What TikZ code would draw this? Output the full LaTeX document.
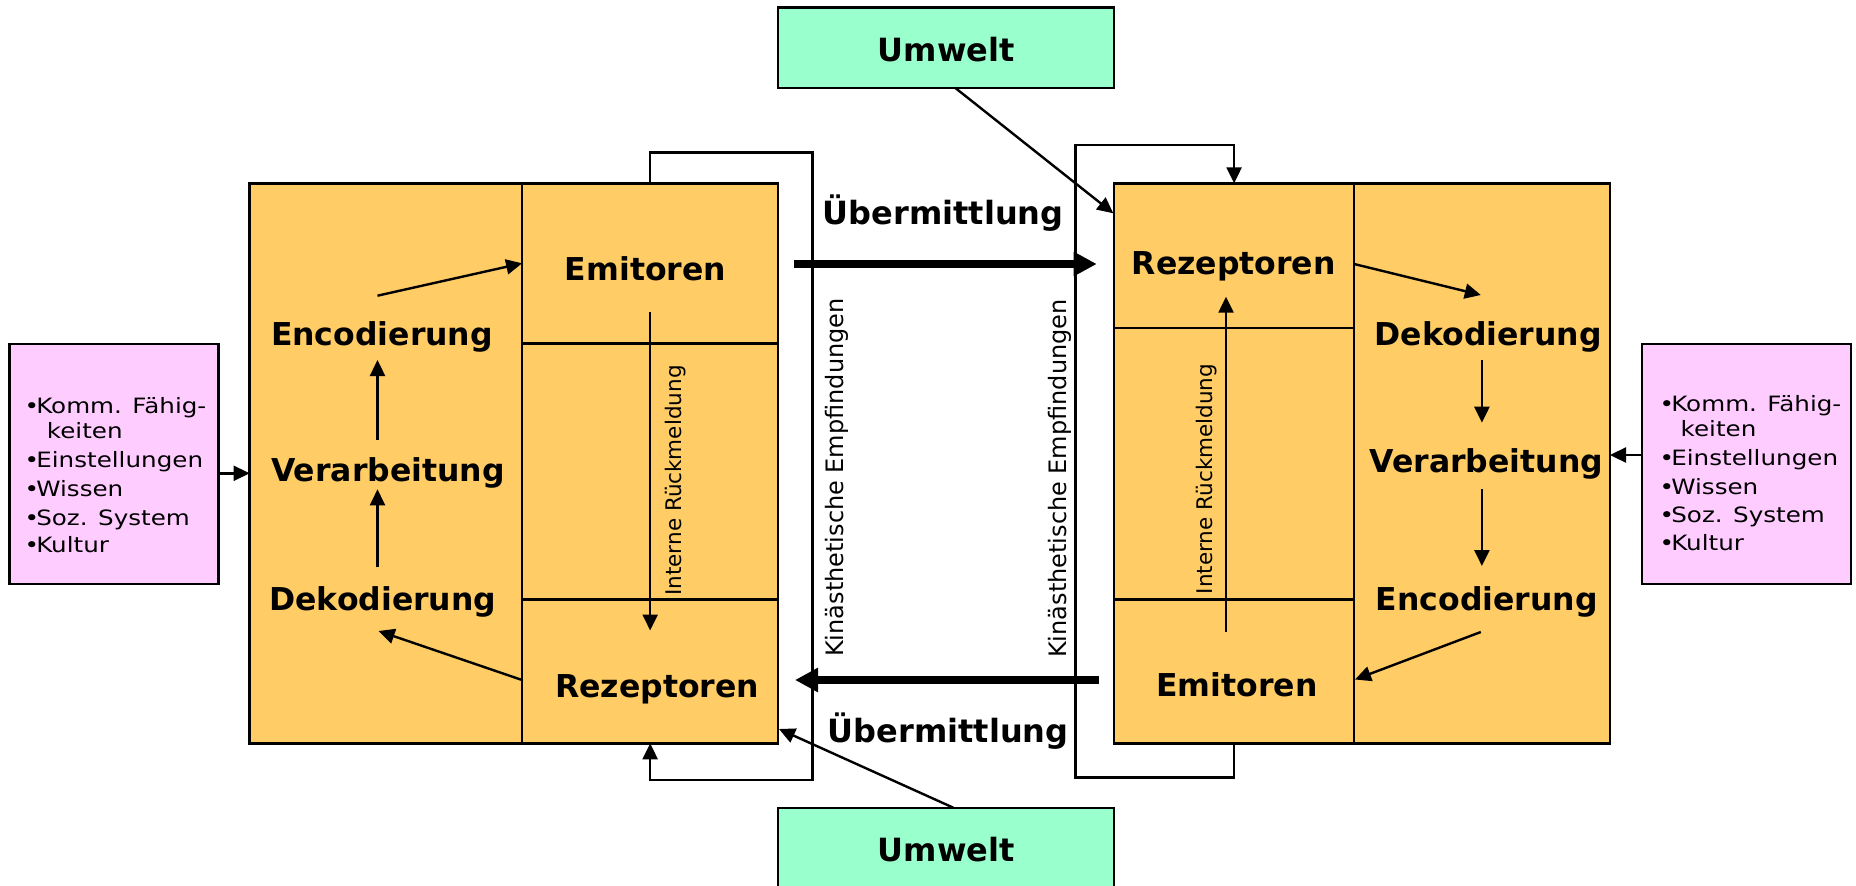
\documentclass[tikz,border=0pt]{standalone}
\usepackage{fontspec}
\usepackage{graphicx}
\setmainfont{DejaVu Sans}
\usetikzlibrary{arrows.meta}
\definecolor{boxorange}{RGB}{255,204,102}
\definecolor{envgreen}{RGB}{153,255,204}
\definecolor{inpink}{RGB}{255,204,255}
\newcommand\bul{\makebox[6.5pt][l]{\hspace{-3.2pt}•}}
\newcommand\pk[1]{\scalebox{1.2}[1.03]{#1}}
\begin{document}
\begin{tikzpicture}[x=1pt,y=-1pt,
  box/.style={draw=black,line width=2.4pt,inner sep=0pt,outer sep=0pt},
  cellbox/.style={box,fill=boxorange},
  greenbox/.style={box,fill=envgreen},
  pinkbox/.style={box,fill=inpink},
  conn/.style={line width=2.4pt,-{Triangle[length=16pt,width=15pt]}},
  bigarrow/.style={line width=8pt,-{Triangle[length=23pt,width=23pt]}},
  lbl/.style={font=\bfseries\fontsize{31.5}{37}\selectfont,anchor=base,inner sep=0pt},
  blbl/.style={font=\bfseries\fontsize{32}{38}\selectfont,anchor=base,inner sep=0pt},
  vlbl/.style={font=\fontsize{24}{28}\selectfont,anchor=base,rotate=90,inner sep=0pt},
  ilbl/.style={font=\fontsize{21.5}{25}\selectfont,anchor=base,rotate=90,inner sep=0pt},
  pinktxt/.style={font=\fontsize{20.5}{24}\selectfont,anchor=base west,inner sep=0pt}
]
\useasboundingbox (0,0) rectangle (1856,886);

% left block
\node[cellbox,minimum width=272.5pt,minimum height=560pt] (colL) at (385.85,463.3) {};
\node[cellbox,minimum width=256.1pt,minimum height=160pt] (emL) at (650.15,263.3) {};
\node[cellbox,minimum width=256.1pt,minimum height=256pt] (midL) at (650.15,471.3) {};
\node[cellbox,minimum width=256.1pt,minimum height=144pt] (rzL) at (650.15,671.3) {};

% right block
\node[cellbox,minimum width=240pt,minimum height=144.4pt] (rzR) at (1234.1,255.5) {};
\node[cellbox,minimum width=240pt,minimum height=271.9pt] (midR) at (1234.1,463.65) {};
\node[cellbox,minimum width=240pt,minimum height=143.7pt] (emR) at (1234.1,671.45) {};
\node[cellbox,minimum width=255.9pt,minimum height=560pt] (colR) at (1482.05,463.3) {};

% pink boxes
\node[pinkbox,minimum width=209pt,minimum height=240pt] (pkL) at (113.8,464) {};
\node[pinkbox,minimum width=209.3pt,minimum height=240pt] (pkR) at (1746.35,464) {};

% green boxes
\node[greenbox,minimum width=336.3pt,minimum height=80.4pt] (uwT) at (945.85,47.5) {};
\node[greenbox,minimum width=336.3pt,minimum height=100pt] (uwB) at (945.85,857.7) {};

% labels
\node[lbl] (tEncL) at (382,345) {Encodierung};
\node[lbl] (tVerL) at (388,481.5) {Verarbeitung};
\node[lbl] (tDekL) at (382.9,610.3) {Dekodierung};
\node[lbl] (tEmL) at (645.5,280.3) {Emitoren};
\node[lbl] (tRzL) at (657.3,697.7) {Rezeptoren};
\node[lbl] (tRzR) at (1233.8,274.3) {Rezeptoren};
\node[lbl] (tDekR) at (1488.2,345) {Dekodierung};
\node[lbl] (tVerR) at (1486.3,472.7) {Verarbeitung};
\node[lbl] (tEncR) at (1486.7,610) {Encodierung};
\node[lbl] (tEmR) at (1237,696) {Emitoren};
\node[blbl] (tUwT) at (946.3,61.5) {Umwelt};
\node[blbl] (tUeT) at (943.3,224) {Übermittlung};
\node[blbl] (tUeB) at (948.3,742.5) {Übermittlung};
\node[blbl] (tUwB) at (946.2,861.5) {Umwelt};

% pink texts
\node[pinktxt] (pL1) at (28.3,413.3) {\pk{\bul Komm. Fähig-}};
\node[pinktxt] (pL2) at (46.7,438.3) {\pk{keiten}};
\node[pinktxt] (pL3) at (28.3,467.3) {\pk{\bul Einstellungen}};
\node[pinktxt] (pL4) at (28.3,496.7) {\pk{\bul Wissen}};
\node[pinktxt] (pL5) at (28.3,525.7) {\pk{\bul Soz. System}};
\node[pinktxt] (pL6) at (28.3,552.7) {\pk{\bul Kultur}};
\node[pinktxt] (pR1) at (1663.3,411.5) {\pk{\bul Komm. Fähig-}};
\node[pinktxt] (pR2) at (1680.5,436.5) {\pk{keiten}};
\node[pinktxt] (pR3) at (1663.3,465.3) {\pk{\bul Einstellungen}};
\node[pinktxt] (pR4) at (1663.3,494.2) {\pk{\bul Wissen}};
\node[pinktxt] (pR5) at (1663.3,522.8) {\pk{\bul Soz. System}};
\node[pinktxt] (pR6) at (1663.3,550.5) {\pk{\bul Kultur}};

% coordinates for free arrow ends
\coordinate (sEncEm) at (377.5,295.7);
\coordinate (sVerEnc) at (377.5,440);
\coordinate (eVerEnc) at (377.5,360);
\coordinate (sDekVer) at (377.5,567.3);
\coordinate (eDekVer) at (377.5,489.3);
\coordinate (sRzDek) at (522.1,680);
\coordinate (eRzDek) at (378.6,631);
\coordinate (sIrL) at (650.15,312.3);
\coordinate (eIrL) at (650.15,630.5);
\coordinate (sIrR) at (1226,631.7);
\coordinate (eIrR) at (1226,296.7);
\coordinate (sRzDekR) at (1354.1,264);
\coordinate (eRzDekR) at (1480.8,295);
\coordinate (sDekVerR) at (1481.9,360);
\coordinate (eDekVerR) at (1481.9,422.7);
\coordinate (sVerEncR) at (1481.9,489);
\coordinate (eVerEncR) at (1481.9,566);
\coordinate (sEncEmR) at (1480.8,632);
\coordinate (eEncEmR) at (1355,679.5);
\coordinate (sTop) at (794.3,264);
\coordinate (eTop) at (1096.7,264);
\coordinate (sBot) at (1098.5,680);
\coordinate (eBot) at (795,680);
\coordinate (sUwT) at (955,87.7);
\coordinate (eUwT) at (1113.3,213.3);
\coordinate (sUwB) at (953.3,807.7);
\coordinate (eUwB) at (779,729);
\coordinate (sPkL) at (218.3,473.3);
\coordinate (ePkL) at (249.6,473.3);
\coordinate (sPkR) at (1641.7,455);
\coordinate (ePkR) at (1610,455);
\coordinate (lTR) at (812.3,152.3);
\coordinate (lBR) at (812.3,780);
\coordinate (rTL) at (1075.5,145);
\coordinate (rBL) at (1075.5,777.3);

% feedback loops
\draw[conn] (emL.north) |- (lTR) -- (lBR) -| (rzL.south);
\draw[conn] (emR.south) |- (rBL) -- (rTL) -| (rzR.north);

% inner arrows left
\draw[conn] (sEncEm) -- (emL.west);
\draw[conn] (sVerEnc) -- (eVerEnc);
\draw[conn] (sDekVer) -- (eDekVer);
\draw[conn] (sRzDek) -- (eRzDek);
\draw[conn] (sIrL) -- (eIrL);
% inner arrows right
\draw[conn] (sIrR) -- (eIrR);
\draw[conn] (sRzDekR) -- (eRzDekR);
\draw[conn] (sDekVerR) -- (eDekVerR);
\draw[conn] (sVerEncR) -- (eVerEncR);
\draw[conn] (sEncEmR) -- (eEncEmR);

% transmission
\draw[bigarrow] (sTop) -- (eTop);
\draw[bigarrow] (sBot) -- (eBot);

% environment and inputs
\draw[conn] (sUwT) -- (eUwT);
\draw[conn] (sUwB) -- (eUwB);
\draw[conn] (sPkL) -- (ePkL);
\draw[conn] (sPkR) -- (ePkR);

% rotated texts
\node[vlbl] (kinL) at (843,477.5) {Kinästhetische Empfindungen};
\node[vlbl] (kinR) at (1066,478.5) {Kinästhetische Empfindungen};
\node[ilbl] (irL) at (681.7,480.5) {Interne Rückmeldung};
\node[ilbl] (irR) at (1212.3,479) {Interne Rückmeldung};
\end{tikzpicture}
\end{document}
